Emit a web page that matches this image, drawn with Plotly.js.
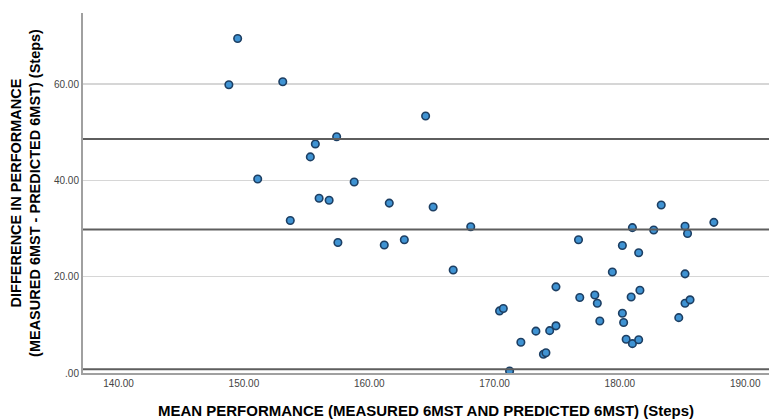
<!DOCTYPE html>
<html>
<head>
<meta charset="utf-8">
<script src="https://cdn.plot.ly/plotly-3.0.1.min.js"></script>
<style>html,body{margin:0;padding:0;background:#fff;}#chart{width:769px;height:420px;}</style>
</head>
<body>
<div id="chart"></div>
<script>
// Mean performance (x) and difference (y) for each participant
const meanPerformance = [149.5,148.8,153.1,157.4,155.7,155.3,151.1,158.8,156.0,156.8,153.7,157.5,
  164.5,161.6,165.1,168.1,161.2,162.8,166.7,176.7,180.2,179.4,174.9,176.8,178.0,178.2,180.9,
  170.4,170.7,180.2,180.3,178.4,173.3,174.4,174.9,172.1,173.9,174.1,180.5,171.2,
  183.3,181.0,182.7,185.2,185.4,187.5,181.5,185.2,181.6,185.2,185.6,184.7,181.0,181.5];
const differencePerformance = [69.5,59.9,60.5,49.1,47.6,44.9,40.3,39.7,36.3,35.9,31.7,27.1,
  53.4,35.3,34.5,30.4,26.6,27.7,21.4,27.7,26.5,21.0,17.9,15.7,16.2,14.5,15.8,
  12.9,13.4,12.4,10.5,10.8,8.7,8.8,9.8,6.4,3.9,4.2,7.0,0.4,
  34.9,30.2,29.7,30.5,29.0,31.3,25.0,20.6,17.2,14.5,15.2,11.5,6.1,6.9];
// Reference lines: upper limit, mean difference, lower limit
const referenceLines = [48.6, 29.8, 0.8];
const xTickVals = [140,150,160,170,180,190];
const xTickText = ["140.00","150.00","160.00","170.00","180.00","190.00"];
const yTickVals = [0,20,40,60];
const yTickText = [".00","20.00","40.00","60.00"];

const trace = {
  x: meanPerformance,
  y: differencePerformance,
  type: 'scatter',
  mode: 'markers',
  marker: {size: 7.5, color: '#3f93d3', line: {color: '#1d3f63', width: 1.6}},
  hoverinfo: 'x+y'
};

const shapes = referenceLines.map(v => ({
  type: 'line', xref: 'paper', x0: 0, x1: 1, yref: 'y', y0: v, y1: v,
  line: {color: '#5e5e5e', width: 2}
}));

const layout = {
  width: 769, height: 420,
  margin: {l: 83, r: 0, t: 13, b: 47},
  paper_bgcolor: '#ffffff', plot_bgcolor: '#ffffff',
  showlegend: false,
  font: {family: 'Liberation Sans, Arial, sans-serif', color: '#000'},
  xaxis: {
    range: [137.16, 191.9],
    tickvals: xTickVals, ticktext: xTickText,
    tickfont: {size: 10, color: '#444'},
    showgrid: false, zeroline: false,
    showline: true, linecolor: '#a0a0a0', linewidth: 1.5,
    ticks: '', ticklen: 0,
    title: {text: 'MEAN PERFORMANCE (MEASURED 6MST AND PREDICTED 6MST) (Steps)',
      font: {size: 15, color: '#000', family: 'Liberation Sans, Arial, sans-serif', weight: 'bold'}, standoff: 18},
    automargin: false
  },
  yaxis: {
    range: [0, 74.8],
    tickvals: yTickVals, ticktext: yTickText,
    tickfont: {size: 10, color: '#444'},
    showgrid: true, gridcolor: '#d6d6d6', gridwidth: 1.5,
    zeroline: false,
    showline: true, linecolor: '#a0a0a0', linewidth: 2,
    ticks: '', ticklen: 0,
    title: {text: 'DIFFERENCE IN PERFORMANCE<br>(MEASURED 6MST - PREDICTED 6MST) (Steps)',
      font: {size: 14.5, color: '#000', family: 'Liberation Sans, Arial, sans-serif', weight: 'bold'}, standoff: 10},
    automargin: false
  },
  shapes: shapes
};

Plotly.newPlot('chart', [trace], layout, {displayModeBar: false, staticPlot: true});
</script>
</body>
</html>
